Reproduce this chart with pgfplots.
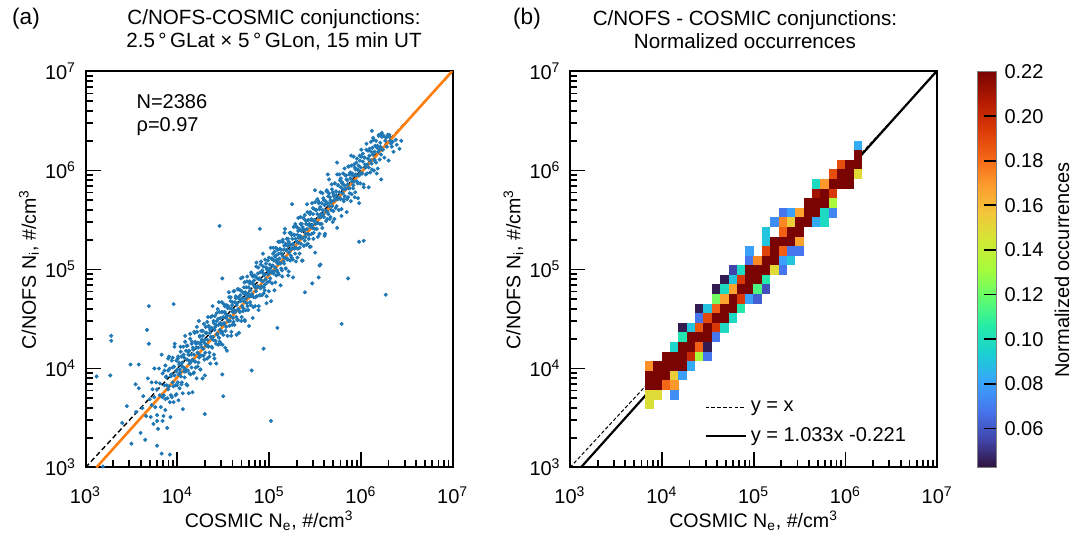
\documentclass[border=0pt]{standalone}
\usepackage{fontspec}
\setmainfont{Liberation Sans}
\usepackage{pgfplots}
\pgfplotsset{compat=1.18}
\definecolor{tabblue}{RGB}{31,119,180}
\definecolor{taborange}{RGB}{255,127,14}
\pgfdeclareplotmark{cellb}{\pgfpathrectangle{\pgfpoint{-2.13pt}{-2.43pt}}{\pgfpoint{4.26pt}{4.86pt}}\pgfusepathqfill}
\pgfplotsset{
  colormap={turbo}{rgb255=(48,18,59) rgb255=(65,69,171) rgb255=(70,117,237) rgb255=(57,162,252) rgb255=(27,207,212) rgb255=(36,236,166) rgb255=(97,252,108) rgb255=(164,252,59) rgb255=(209,232,52) rgb255=(243,198,58) rgb255=(254,155,45) rgb255=(243,99,21) rgb255=(217,56,6) rgb255=(177,25,1) rgb255=(122,4,2)},
  logpanel/.style={
    x=45.9pt, y=49.5pt, xmin=3, xmax=7, ymin=3, ymax=7, enlargelimits=false,
    anchor=south west,
    xtick={3,4,5,6,7}, ytick={3,4,5,6,7},
    xticklabels={10\textsuperscript{3},10\textsuperscript{4},10\textsuperscript{5},10\textsuperscript{6},10\textsuperscript{7}},
    yticklabels={10\textsuperscript{3},10\textsuperscript{4},10\textsuperscript{5},10\textsuperscript{6},10\textsuperscript{7}},
    minor xtick={3.30103,3.47712,3.60206,3.69897,3.77815,3.84510,3.90309,3.95424,4.30103,4.47712,4.60206,4.69897,4.77815,4.84510,4.90309,4.95424,5.30103,5.47712,5.60206,5.69897,5.77815,5.84510,5.90309,5.95424,6.30103,6.47712,6.60206,6.69897,6.77815,6.84510,6.90309,6.95424},
    minor ytick={3.30103,3.47712,3.60206,3.69897,3.77815,3.84510,3.90309,3.95424,4.30103,4.47712,4.60206,4.69897,4.77815,4.84510,4.90309,4.95424,5.30103,5.47712,5.60206,5.69897,5.77815,5.84510,5.90309,5.95424,6.30103,6.47712,6.60206,6.69897,6.77815,6.84510,6.90309,6.95424},
    tick pos=left, tick align=inside,
    major tick length=7.5pt, minor tick length=3.7pt,
    tick style={black, line width=0.9pt},
    axis line style={line width=1pt},
    tick label style={font=\fontsize{10}{12}\selectfont},
    xticklabel style={yshift=-6pt},
    yticklabel style={xshift=-1.2pt},
    label style={font=\fontsize{9.8}{12}\selectfont},
    xlabel style={at={(axis description cs:0.5,-0.135)}, anchor=center},
    ylabel style={at={(axis description cs:-0.154,0.5)}, anchor=center, rotate=0},
    xlabel={COSMIC N\textsubscript{e}, \#/cm\textsuperscript{3}},
    ylabel={C/NOFS N\textsubscript{i}, \#/cm\textsuperscript{3}},
  }
}
\begin{document}
\begin{tikzpicture}
\useasboundingbox (0,0) rectangle (542pt,267.5pt);
% ---------------- panel (a) ----------------
\begin{axis}[logpanel, at={(42.75pt,33.75pt)}]
\addplot[only marks, mark=*, mark size=0.8pt, color=tabblue, mark options={draw=none, fill=tabblue}] coordinates {
(3.70,3.69)(3.71,3.51)(3.72,3.86)(3.72,3.63)(3.73,3.79)(3.74,3.44)(3.75,3.71)(3.75,4.00)(3.76,3.61)(3.77,3.86)(3.78,3.53)(3.78,3.79)(3.79,3.39)(3.80,4.00)(3.81,3.73)(3.81,3.85)(3.82,3.61)(3.83,4.14)(3.84,3.71)(3.84,3.95)(3.85,3.52)(3.86,3.83)(3.87,4.03)(3.87,3.69)(3.88,3.91)(3.89,3.40)(3.90,3.98)(3.90,3.79)(3.91,4.12)(3.92,3.66)(3.93,3.92)(3.93,3.73)(3.94,4.08)(3.95,3.86)(3.95,4.01)(3.96,3.66)(3.97,3.93)(3.97,4.22)(3.98,3.83)(3.99,4.08)(3.99,3.74)
(4.000,3.99)(4.005,3.86)(4.010,4.12)(4.015,3.94)(4.020,4.06)(4.025,3.80)(4.030,3.99)(4.035,4.22)(4.040,3.92)(4.045,4.12)(4.050,3.86)(4.055,4.06)(4.060,3.75)(4.065,4.22)(4.070,4.01)(4.075,4.11)(4.080,3.91)(4.085,4.33)(4.090,3.99)(4.095,4.18)(4.100,3.84)(4.105,4.09)(4.110,4.23)(4.115,3.98)(4.120,4.14)(4.125,3.75)(4.130,4.18)(4.135,4.05)(4.140,4.30)(4.145,3.94)
(4.150,4.14)(4.155,4.01)(4.160,4.27)(4.165,4.09)(4.170,4.21)(4.175,3.95)(4.180,4.14)(4.185,4.37)(4.190,4.07)(4.195,4.27)(4.200,4.01)(4.205,4.21)(4.210,3.90)(4.215,4.37)(4.220,4.16)(4.225,4.26)(4.230,4.06)(4.235,4.48)(4.240,4.14)(4.245,4.33)(4.250,3.99)(4.255,4.24)(4.260,4.38)(4.265,4.13)(4.270,4.29)(4.275,3.90)(4.280,4.33)(4.285,4.20)(4.290,4.45)(4.295,4.09)
(4.300,4.29)(4.305,4.16)(4.310,4.42)(4.315,4.24)(4.320,4.36)(4.325,4.10)(4.330,4.29)(4.335,4.52)(4.340,4.22)(4.345,4.42)(4.350,4.16)(4.355,4.36)(4.360,4.05)(4.365,4.52)(4.370,4.31)(4.375,4.41)(4.380,4.21)(4.385,4.63)(4.390,4.29)(4.395,4.48)(4.400,4.14)(4.405,4.39)(4.410,4.53)(4.415,4.28)(4.420,4.44)(4.425,4.05)(4.430,4.48)(4.435,4.35)(4.440,4.60)(4.445,4.24)
(4.450,4.44)(4.455,4.31)(4.460,4.57)(4.465,4.39)(4.470,4.51)(4.475,4.25)(4.480,4.44)(4.485,4.67)(4.490,4.37)(4.495,4.57)
(4.502,4.34)(4.507,4.65)(4.512,4.45)(4.517,4.57)(4.522,4.21)(4.527,4.55)(4.532,4.42)(4.537,4.64)(4.542,4.53)(4.547,4.33)(4.552,4.63)(4.557,4.48)(4.562,4.77)(4.567,4.43)(4.572,4.61)(4.577,4.53)(4.582,4.72)(4.587,4.33)(4.592,4.60)(4.597,4.44)(4.602,4.67)(4.607,4.51)(4.612,4.78)(4.617,4.59)(4.622,4.44)(4.627,4.67)(4.632,4.58)(4.637,4.73)(4.642,4.52)(4.647,4.64)
(4.652,4.49)(4.657,4.80)(4.662,4.60)(4.667,4.72)(4.672,4.36)(4.677,4.70)(4.682,4.57)(4.687,4.79)(4.692,4.68)(4.697,4.48)(4.702,4.78)(4.707,4.63)(4.712,4.92)(4.717,4.58)(4.722,4.76)(4.727,4.68)(4.732,4.87)(4.737,4.48)(4.742,4.75)(4.747,4.59)(4.752,4.82)(4.757,4.66)(4.762,4.93)(4.767,4.74)(4.772,4.59)(4.777,4.82)(4.782,4.73)(4.787,4.88)(4.792,4.67)(4.797,4.79)
(4.802,4.64)(4.807,4.95)(4.812,4.75)(4.817,4.87)(4.822,4.51)(4.827,4.85)(4.832,4.72)(4.837,4.94)(4.842,4.83)(4.847,4.63)(4.852,4.93)(4.857,4.78)(4.862,5.07)(4.867,4.73)(4.872,4.91)(4.877,4.83)(4.882,5.02)(4.887,4.63)(4.892,4.90)(4.897,4.74)(4.902,4.97)(4.907,4.81)(4.912,5.08)(4.917,4.89)(4.922,4.74)(4.927,4.97)(4.932,4.88)(4.937,5.03)(4.942,4.82)(4.947,4.94)
(4.952,4.79)(4.957,5.10)(4.962,4.90)(4.967,5.02)(4.972,4.66)(4.977,5.00)(4.982,4.87)(4.987,5.09)(4.992,4.98)(4.997,4.78)
(5.003,4.98)(5.008,5.05)(5.013,4.91)(5.018,5.22)(5.023,4.97)(5.028,5.11)(5.033,4.86)(5.038,5.04)(5.043,5.16)(5.048,4.96)(5.053,5.09)(5.058,4.79)(5.063,5.13)(5.068,5.02)(5.073,5.22)(5.078,4.94)(5.083,5.10)(5.088,4.99)(5.093,5.20)(5.098,5.06)(5.103,5.16)(5.108,4.95)(5.113,5.11)(5.118,5.28)(5.123,5.06)(5.128,5.20)(5.133,5.01)(5.138,5.16)(5.143,4.93)(5.148,5.28)
(5.153,5.13)(5.158,5.20)(5.163,5.06)(5.168,5.37)(5.173,5.12)(5.178,5.26)(5.183,5.01)(5.188,5.19)(5.193,5.31)(5.198,5.11)(5.203,5.24)(5.208,4.94)(5.213,5.28)(5.218,5.17)(5.223,5.37)(5.228,5.09)(5.233,5.25)(5.238,5.14)(5.243,5.35)(5.248,5.21)(5.253,5.31)(5.258,5.10)(5.263,5.26)(5.268,5.43)(5.273,5.21)(5.278,5.35)(5.283,5.16)(5.288,5.31)(5.293,5.08)(5.298,5.43)
(5.303,5.28)(5.308,5.35)(5.313,5.21)(5.318,5.52)(5.323,5.27)(5.328,5.41)(5.333,5.16)(5.338,5.34)(5.343,5.46)(5.348,5.26)(5.353,5.39)(5.358,5.09)(5.363,5.43)(5.368,5.32)(5.373,5.52)(5.378,5.24)(5.383,5.40)(5.388,5.29)(5.393,5.50)(5.398,5.36)(5.403,5.46)(5.408,5.25)(5.413,5.41)(5.418,5.58)(5.423,5.36)(5.428,5.50)(5.433,5.31)(5.438,5.46)(5.443,5.23)(5.448,5.58)
(5.453,5.43)(5.458,5.50)(5.463,5.36)(5.468,5.67)(5.473,5.42)(5.478,5.56)(5.483,5.31)(5.488,5.49)(5.493,5.61)(5.498,5.41)
(5.501,5.68)(5.507,5.46)(5.513,5.60)(5.519,5.41)(5.525,5.56)(5.531,5.33)(5.537,5.69)(5.543,5.53)(5.549,5.61)(5.555,5.46)(5.561,5.78)(5.567,5.53)(5.573,5.67)(5.579,5.42)(5.585,5.60)(5.591,5.72)(5.597,5.53)(5.603,5.65)(5.609,5.36)(5.615,5.69)(5.621,5.59)(5.627,5.79)(5.633,5.51)(5.639,5.67)(5.645,5.56)(5.651,5.77)(5.657,5.64)(5.663,5.73)(5.669,5.53)(5.675,5.68)
(5.681,5.86)(5.687,5.64)(5.693,5.78)(5.699,5.59)(5.705,5.74)(5.711,5.51)(5.717,5.87)(5.723,5.71)(5.729,5.79)(5.735,5.64)(5.741,5.96)(5.747,5.71)(5.753,5.85)(5.759,5.60)(5.765,5.78)(5.771,5.90)(5.777,5.71)(5.783,5.83)(5.789,5.54)(5.795,5.87)(5.801,5.77)(5.807,5.97)(5.813,5.69)(5.819,5.85)(5.825,5.74)(5.831,5.95)(5.837,5.82)(5.843,5.91)(5.849,5.71)(5.855,5.86)
(5.861,6.04)(5.867,5.82)(5.873,5.96)(5.879,5.77)(5.885,5.92)(5.891,5.69)(5.897,6.05)(5.903,5.89)(5.909,5.97)(5.915,5.82)(5.921,6.14)(5.927,5.89)(5.933,6.03)(5.939,5.78)(5.945,5.96)(5.951,6.08)(5.957,5.89)(5.963,6.01)(5.969,5.72)(5.975,6.05)(5.981,5.95)(5.987,6.15)(5.993,5.87)(5.999,6.03)
(6.004,6.14)(6.013,5.97)(6.022,6.09)(6.031,5.83)(6.040,6.13)(6.049,6.03)(6.058,6.21)(6.067,5.97)(6.076,6.12)(6.085,6.03)(6.094,6.22)(6.103,6.10)(6.112,6.19)(6.121,6.01)(6.130,6.16)(6.139,6.31)(6.148,6.11)(6.157,6.25)(6.166,6.08)(6.175,6.23)(6.184,6.02)(6.193,6.35)(6.202,6.21)(6.211,6.28)(6.220,6.16)(6.229,6.38)(6.238,6.21)(6.247,6.35)(6.256,6.13)(6.265,6.30)(6.274,6.33)(6.283,6.24)(6.292,6.36)(6.301,6.10)(6.310,6.34)(6.319,6.30)(6.328,6.27)(6.337,6.24)(6.346,6.29)(6.355,6.19)(6.39,6.26)(6.42,6.22)
(3.55,3.56)(3.60,3.35)(3.63,3.72)(3.66,3.52)(3.68,3.90)(3.58,3.80)(3.62,3.60)(3.65,3.28)(3.45,3.62)(3.40,3.45)
(6.27,4.745)(5.86,4.91)(5.79,4.45)(5.02,3.47)(4.81,3.98)(4.94,4.20)(5.09,4.41)(3.28,4.33)(3.28,4.28)(3.69,4.63)(3.67,4.39)(3.69,4.25)(3.96,4.65)(3.49,4.04)(3.58,4.04)(3.12,3.92)(3.27,3.93)(3.50,3.24)(3.78,3.22)(3.83,3.14)(3.92,3.13)(4.50,3.72)(4.30,3.54)(3.78,3.47)(3.84,3.47)(3.545,3.84)(3.19,3.01)(5.47,4.86)(5.54,4.92)(5.56,5.05)(5.39,4.77)(4.49,3.94)(4.46,5.44)(4.90,5.41)(5.98,5.28)(6.03,5.29)(5.55,5.04)(4.49,4.91)(6.12,6.40)(6.22,6.37)(6.31,6.36)(6.44,6.30)(6.38,6.31)(5.74,6.08)(5.64,5.96)(5.25,5.66)(5.50,5.80)
(3.853,3.73)(3.861,3.98)(3.869,3.58)(3.877,3.92)(3.885,3.83)(3.893,3.70)(3.901,4.10)(3.909,3.82)(3.917,4.00)(3.925,3.51)(3.933,3.94)(3.941,3.71)(3.949,4.11)(3.957,3.82)(3.965,4.02)(3.973,4.25)(3.981,3.73)(3.989,3.97)(3.997,3.83)(4.005,4.10)(4.013,3.68)(4.021,4.04)(4.029,3.96)(4.037,4.17)(4.045,3.84)(4.053,4.02)(4.061,3.59)(4.069,4.14)(4.077,3.97)(4.085,4.27)
(4.093,3.97)(4.101,4.23)(4.109,3.83)(4.117,4.17)(4.125,4.08)(4.133,3.95)(4.141,4.35)(4.149,4.07)(4.157,4.25)(4.165,3.76)(4.173,4.19)(4.181,3.96)(4.189,4.36)(4.197,4.07)(4.205,4.25)(4.213,4.42)(4.221,4.02)(4.229,4.21)(4.237,4.11)(4.245,4.32)(4.253,3.99)(4.261,4.27)(4.269,4.21)(4.277,4.38)(4.285,4.13)(4.293,4.26)(4.301,3.93)(4.309,4.36)(4.317,4.23)(4.325,4.47)
(4.333,4.23)(4.341,4.43)(4.349,4.12)(4.357,4.39)(4.365,4.32)(4.373,4.22)(4.381,4.53)(4.389,4.32)(4.397,4.46)(4.405,4.10)(4.413,4.42)(4.421,4.25)(4.429,4.56)(4.437,4.34)(4.445,4.50)(4.453,4.67)(4.461,4.27)(4.469,4.46)(4.477,4.36)(4.485,4.57)(4.493,4.24)(4.501,4.52)(4.509,4.46)(4.517,4.63)(4.525,4.38)(4.533,4.51)(4.541,4.18)(4.549,4.61)(4.557,4.48)(4.565,4.72)
(4.573,4.48)(4.581,4.68)(4.589,4.37)(4.597,4.64)(4.605,4.57)(4.613,4.47)(4.621,4.78)(4.629,4.57)(4.637,4.71)(4.645,4.34)(4.653,4.66)(4.661,4.49)(4.669,4.80)(4.677,4.58)(4.685,4.74)(4.693,4.91)(4.701,4.52)(4.709,4.71)(4.717,4.61)(4.725,4.82)(4.733,4.49)(4.741,4.77)(4.749,4.71)(4.757,4.88)(4.765,4.63)(4.773,4.76)(4.781,4.43)(4.789,4.86)(4.797,4.73)(4.805,4.97)
(4.813,4.73)(4.821,4.93)(4.829,4.62)(4.837,4.89)(4.845,4.82)(4.853,4.72)(4.861,5.03)(4.869,4.82)(4.877,4.96)(4.885,4.59)(4.893,4.91)(4.901,4.74)(4.909,5.05)(4.917,4.83)(4.925,4.99)(4.933,5.16)(4.941,4.76)(4.949,4.95)(4.957,4.85)(4.965,5.06)(4.973,4.73)(4.981,5.01)(4.989,4.95)(4.997,5.12)(5.005,4.88)(5.013,5.01)(5.021,4.68)(5.029,5.11)(5.037,4.98)(5.045,5.22)
(5.053,4.98)(5.061,5.18)(5.069,4.87)(5.077,5.14)(5.085,5.07)(5.093,4.97)(5.101,5.28)(5.109,5.07)(5.117,5.21)(5.125,4.84)(5.133,5.16)(5.141,4.99)(5.149,5.30)(5.157,5.08)(5.165,5.24)(5.173,5.41)(5.181,5.01)(5.189,5.20)(5.197,5.10)(5.205,5.31)(5.213,4.98)(5.221,5.26)(5.229,5.20)(5.237,5.37)(5.245,5.12)(5.253,5.25)(5.261,4.92)(5.269,5.35)(5.277,5.22)(5.285,5.46)
(5.293,5.22)(5.301,5.43)(5.309,5.12)(5.317,5.39)(5.325,5.32)(5.333,5.22)(5.341,5.53)(5.349,5.32)(5.357,5.46)(5.365,5.09)(5.373,5.41)(5.381,5.24)(5.389,5.55)(5.397,5.33)(5.405,5.49)(5.413,5.66)(5.421,5.26)(5.429,5.45)(5.437,5.35)(5.445,5.56)(5.453,5.23)(5.461,5.51)(5.469,5.45)(5.477,5.62)(5.485,5.37)(5.493,5.50)(5.501,5.17)(5.509,5.60)(5.517,5.47)(5.525,5.71)
(5.533,5.47)(5.541,5.67)(5.549,5.36)(5.557,5.63)(5.565,5.56)(5.573,5.46)(5.581,5.77)(5.589,5.56)(5.597,5.70)(5.605,5.34)(5.613,5.66)(5.621,5.49)(5.629,5.80)(5.637,5.58)(5.645,5.74)(5.653,5.91)(5.661,5.51)(5.669,5.70)(5.677,5.60)(5.685,5.81)(5.693,5.48)(5.701,5.76)(5.709,5.70)(5.717,5.87)(5.725,5.62)(5.733,5.75)(5.741,5.42)(5.749,5.85)(5.757,5.72)(5.765,5.96)
(5.773,5.72)(5.781,5.92)(5.789,5.61)(5.797,5.88)(5.805,5.81)(5.813,5.71)(5.821,6.02)(5.829,5.81)(5.837,5.95)(5.845,5.58)(5.853,5.90)(5.861,5.73)(5.869,6.04)(5.877,5.82)(5.885,5.98)(5.893,6.15)(5.901,5.76)(5.909,5.95)(5.917,5.85)(5.925,6.06)(5.933,5.73)(5.941,6.01)(5.949,5.95)(5.957,6.12)(5.965,5.87)(5.973,6.00)(5.981,5.67)(5.989,6.10)(5.997,5.97)(6.005,6.21)
(6.013,5.97)(6.021,6.17)(6.029,5.86)(6.037,6.13)(6.045,6.06)(6.053,5.96)(6.061,6.27)(6.069,6.06)(6.077,6.20)(6.085,5.83)(6.093,6.15)(6.101,5.98)(6.109,6.29)(6.117,6.07)(6.125,6.23)(6.133,6.33)(6.141,6.00)(6.149,6.19)(6.157,6.09)(6.165,6.30)(6.173,5.97)(6.181,6.25)(6.189,6.19)(6.197,6.36)(6.205,6.11)(6.213,6.24)(6.221,5.91)(6.229,6.34)(6.237,6.21)(6.245,6.35)
};
\addplot[black, line width=0.7pt, dash pattern=on 2.5pt off 1.5pt] coordinates {(3,3) (7,7)};
\addplot[taborange, line width=1.3pt] coordinates {(3.1181,3) (7,7.010)};
\node[anchor=west, font=\fontsize{10}{12}\selectfont] at (rel axis cs:0.12,0.924) {N=2386};
\node[anchor=west, font=\fontsize{10}{12}\selectfont] at (rel axis cs:0.12,0.861) {ρ=0.97};
\end{axis}
% ---------------- panel (b) ----------------
\begin{axis}[logpanel, at={(285pt,33.75pt)},
  colormap name=turbo, point meta min=0.0425, point meta max=0.22,
  colorbar, colorbar/width=9.5pt,
  colorbar style={
    at={(parent axis.north east)}, anchor=north west, xshift=11.6pt,
    scale only axis, width=9.5pt, height=198pt,
    ytick={0.06,0.08,0.10,0.12,0.14,0.16,0.18,0.20,0.22},
    yticklabels={0.06,0.08,0.10,0.12,0.14,0.16,0.18,0.20,0.22},
    ytick pos=right, yticklabel pos=right, tick align=inside,
    major tick length=6pt, tick style={black, line width=0.9pt},
    axis line style={gray, line width=0.5pt},
    tick label style={font=\fontsize{10}{12}\selectfont},
    yticklabel style={xshift=0.5pt},
  },
  legend style={draw=none, fill=none, at={(0.36,0.114)}, anchor=west,
    font=\fontsize{10}{12}\selectfont, row sep=2.5pt, inner sep=1pt},
  legend cell align=left,
  legend image code/.code={\draw[#1] (0pt,0pt) -- (20pt,0pt);},
]
\addplot[scatter, only marks, mark=cellb, point meta=explicit, forget plot,
  scatter/use mapped color={draw=mapped color, fill=mapped color}] coordinates {
(6.136,6.252)[0.083]
(6.136,6.155)[0.22]
(5.955,6.058)[0.188] (6.045,6.058)[0.22] (6.136,6.058)[0.22]
(5.864,5.961)[0.188] (5.955,5.961)[0.22] (6.045,5.961)[0.22] (6.136,5.961)[0.149]
(5.682,5.864)[0.098] (5.773,5.864)[0.170] (5.864,5.864)[0.22] (5.955,5.864)[0.22] (6.045,5.864)[0.22]
(5.682,5.768)[0.211] (5.773,5.768)[0.22] (5.864,5.768)[0.195]
(5.591,5.671)[0.22] (5.682,5.671)[0.22] (5.773,5.671)[0.22] (5.864,5.671)[0.133]
(5.318,5.574)[0.068] (5.409,5.574)[0.080] (5.500,5.574)[0.167] (5.591,5.574)[0.22] (5.682,5.574)[0.22] (5.773,5.574)[0.098] (5.864,5.574)[0.072]
(5.227,5.477)[0.075] (5.318,5.477)[0.174] (5.409,5.477)[0.154] (5.500,5.477)[0.22] (5.591,5.477)[0.22] (5.682,5.477)[0.083] (5.773,5.477)[0.098]
(5.136,5.380)[0.090] (5.318,5.380)[0.183] (5.409,5.380)[0.22] (5.500,5.380)[0.22]
(5.136,5.284)[0.090] (5.227,5.284)[0.22] (5.318,5.284)[0.22] (5.409,5.284)[0.22] (5.500,5.284)[0.167]
(4.955,5.187)[0.080] (5.136,5.187)[0.192] (5.227,5.187)[0.22] (5.318,5.187)[0.183] (5.409,5.187)[0.068] (5.500,5.187)[0.068]
(4.955,5.090)[0.068] (5.045,5.090)[0.174] (5.136,5.090)[0.22] (5.227,5.090)[0.22] (5.318,5.090)[0.080] (5.409,5.090)[0.090]
(4.773,4.993)[0.055] (4.864,4.993)[0.098] (4.955,4.993)[0.22] (5.045,4.993)[0.22] (5.136,4.993)[0.22] (5.227,4.993)[0.149] (5.318,4.993)[0.068]
(4.682,4.896)[0.045] (4.773,4.896)[0.090] (4.864,4.896)[0.195] (4.955,4.896)[0.22] (5.045,4.896)[0.22] (5.136,4.896)[0.105]
(4.591,4.800)[0.045] (4.682,4.800)[0.098] (4.773,4.800)[0.167] (4.864,4.800)[0.22] (4.955,4.800)[0.22] (5.045,4.800)[0.114] (5.136,4.800)[0.058]
(4.591,4.703)[0.122] (4.682,4.703)[0.167] (4.773,4.703)[0.22] (4.864,4.703)[0.195] (4.955,4.703)[0.080] (5.045,4.703)[0.062]
(4.409,4.606)[0.045] (4.500,4.606)[0.090] (4.591,4.606)[0.183] (4.682,4.606)[0.22] (4.773,4.606)[0.22] (4.864,4.606)[0.105]
(4.409,4.509)[0.068] (4.500,4.509)[0.190] (4.591,4.509)[0.22] (4.682,4.509)[0.22] (4.773,4.509)[0.098]
(4.227,4.412)[0.045] (4.318,4.412)[0.090] (4.409,4.412)[0.185] (4.500,4.412)[0.22] (4.591,4.412)[0.195] (4.682,4.412)[0.098]
(4.227,4.316)[0.103] (4.318,4.316)[0.22] (4.409,4.316)[0.22] (4.500,4.316)[0.22] (4.591,4.316)[0.068]
(4.136,4.219)[0.096] (4.227,4.219)[0.22] (4.318,4.219)[0.22] (4.409,4.219)[0.183] (4.500,4.219)[0.045]
(4.045,4.122)[0.22] (4.136,4.122)[0.22] (4.227,4.122)[0.22] (4.318,4.122)[0.200] (4.409,4.122)[0.133] (4.500,4.122)[0.068]
(3.864,4.025)[0.172] (3.955,4.025)[0.22] (4.045,4.025)[0.22] (4.136,4.025)[0.22] (4.227,4.025)[0.22] (4.318,4.025)[0.083]
(3.864,3.928)[0.22] (3.955,3.928)[0.22] (4.045,3.928)[0.22] (4.136,3.928)[0.154] (4.227,3.928)[0.080]
(3.864,3.832)[0.22] (3.955,3.832)[0.22] (4.045,3.832)[0.181] (4.136,3.832)[0.170]
(3.864,3.735)[0.149] (3.955,3.735)[0.149] (4.136,3.735)[0.075]
(3.864,3.638)[0.147]
};
\addplot[black, line width=0.5pt, dash pattern=on 1.8pt off 1.1pt] coordinates {(3,3) (7,7)};
\addlegendentry{y = x}
\addplot[black, line width=1.1pt] coordinates {(3.1181,3) (7,7.010)};
\addlegendentry{y = 1.033x -0.221}
\end{axis}
% ---------------- titles ----------------
\node[font=\fontsize{11.3}{13}\selectfont] at (13pt,258.3pt) {(a)};
\node[font=\fontsize{11.3}{13}\selectfont] at (263.5pt,258.3pt) {(b)};
\node[font=\fontsize{10.3}{11.6}\selectfont, align=center] at (137pt,252.5pt) {C/NOFS-COSMIC conjunctions:\\2.5\,°\,GLat × 5\,°\,GLon, 15 min UT};
\node[font=\fontsize{10.3}{11.6}\selectfont, align=center] at (372.5pt,252.5pt) {C/NOFS - COSMIC conjunctions:\\Normalized occurrences};
\node[rotate=90, font=\fontsize{10}{12}\selectfont] at (531pt,132.5pt) {Normalized occurrences};
\end{tikzpicture}
\end{document}
